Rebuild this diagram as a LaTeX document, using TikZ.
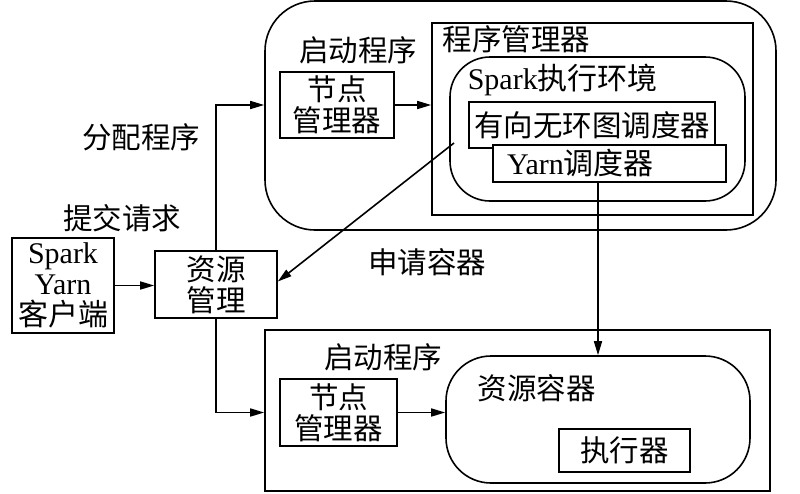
\documentclass[tikz,border=0pt]{standalone}
\usepackage{fontspec}
\setmainfont{Liberation Serif}
\newfontfamily\cjk{Noto Sans CJK SC}
\usetikzlibrary{arrows.meta,calc}
\begin{document}
\begin{tikzpicture}[x=1pt,y=-1pt,line width=1.6pt,
  every node/.style={font=\fontsize{30}{31}\selectfont,inner sep=0pt},
  cj/.style={font=\fontsize{29.5}{31}\selectfont\cjk},
  box/.style={draw,fill=white,align=center},
  arr/.style={-{Triangle[length=14pt,width=8pt]}}]
\useasboundingbox (0,0) rectangle (800,493);
% top launcher
\node[draw,rounded corners=50pt,minimum width=511,minimum height=229] (outer1) at (520.5,115.5) {};
\node[cj] (start1) at (358,50) {启动程序};
\node[box,cj,minimum width=114,minimum height=66] (nm1) at (337,105) {节点\\管理器};
\node[draw,minimum width=321,minimum height=192] (pm) at (592.5,119) {};
\node[cj,anchor=west] (pmlbl) at (442,39) {程序管理器};
\node[draw,rounded corners=40pt,minimum width=295,minimum height=144] (env) at (597.5,129) {};
\node[anchor=west] (envlbl) at (467,80) {Spark{\cjk 执行环境}};
\node[box,cj,minimum width=246,minimum height=46] (dag) at (592,125) {有向无环图调度器};
\node[box,minimum height=37,text width=205,inner xsep=14,align=left] (yarn) at (609.5,163.5) {Yarn{\cjk 调度器}};
% client and RM
\node[box,minimum width=102,minimum height=95] (client) at (63,285.5) {Spark\\Yarn\\{\cjk 客户端}};
\node[box,cj,minimum width=122,minimum height=67] (rm) at (216,284.5) {资源\\管理};
% bottom launcher
\node[draw,minimum width=505,minimum height=161] (outer2) at (517.5,410.5) {};
\node[cj] (start2) at (383,357) {启动程序};
\node[box,cj,minimum width=117,minimum height=67] (nm2) at (338.5,412.5) {节点\\管理器};
\node[draw,rounded corners=45pt,minimum width=304,minimum height=127] (rc) at (598,419.5) {};
\node[cj,anchor=west] (rclbl) at (477,388) {资源容器};
\node[box,cj,minimum width=131,minimum height=43] (exec) at (624.5,450.5) {执行器};
% labels
\node[cj] (l1) at (141,137) {分配程序};
\node[cj] (l2) at (122,218) {提交请求};
\node[cj] (l3) at (427,262) {申请容器};
% connectors
\coordinate (dstart) at (454,143);
\draw[arr] (client.east) -- (client.east -| rm.west);
\draw[arr] (rm.north) |- (outer1.west |- nm1.west);
\draw[arr] (rm.south) |- (outer2.west |- nm2.west);
\draw[arr] (nm1.east) -- (nm1.east -| pm.west);
\draw[arr] (nm2.east) -- (nm2.east -| rc.west);
\draw[arr] (dstart) -- ($(rm.east)+(0,-3)$);
\draw[arr] (rc.north |- yarn.south) -- (rc.north);
\end{tikzpicture}
\end{document}
